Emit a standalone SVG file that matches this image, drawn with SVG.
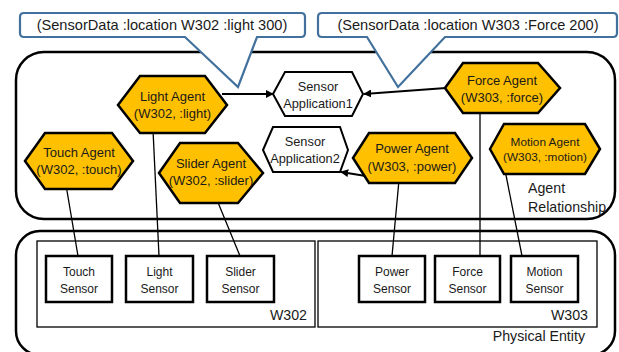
<svg xmlns="http://www.w3.org/2000/svg" width="619" height="352" viewBox="0 0 619 352">
<style>
text{font-family:"Liberation Sans",Arial,sans-serif;fill:#1a1a1a;}
.hex{fill:#FFC000;stroke:#000;stroke-width:2.5;stroke-linejoin:miter;}
.app{fill:#fff;stroke:#000;stroke-width:2;}
.sensor{fill:#fff;stroke:#000;stroke-width:2.5;}
.area{fill:none;stroke:#000;stroke-width:1.3;}
.big{fill:none;stroke:#000;stroke-width:2.5;}
.callout{fill:#fff;stroke:#41719C;stroke-width:2.2;stroke-linejoin:miter;}
.ln{stroke:#000;stroke-width:1.3;fill:none;}
.ar{stroke:#000;stroke-width:2;fill:none;marker-end:url(#ah);}
.t12{font-size:12px;text-anchor:middle;}
.tapp{font-size:12.8px;text-anchor:middle;}
.t13{font-size:13px;text-anchor:middle;}
.lbl{font-size:14.2px;}
</style>
<defs>
<marker id="ah" viewBox="0 0 10 10" refX="9" refY="5" markerWidth="4" markerHeight="4" orient="auto" markerUnits="strokeWidth">
<path d="M0,0 L10,5 L0,10 z" fill="#000"/>
</marker>
</defs>

<g id="agent-relationship">
<rect class="big" x="16" y="52" width="599" height="167" rx="28"/>
<text class="lbl" x="528" y="193">Agent</text>
<text class="lbl" x="528" y="212">Relationship</text>
</g>
<g id="physical-entity">
<rect class="big" x="16" y="231" width="599" height="124" rx="24"/>
<text class="lbl" x="585" y="341" text-anchor="end">Physical Entity</text>
</g>
<g id="w302">
<rect class="area" x="37" y="241" width="278" height="86"/>
<text class="lbl" x="307" y="320" text-anchor="end">W302</text>
</g>
<g id="w303">
<rect class="area" x="318" y="241" width="279" height="86"/>
<text class="lbl" x="588" y="320" text-anchor="end">W303</text>
</g>

<g id="connectors">
<line class="ln" x1="66" y1="185" x2="78" y2="256"/>
<line class="ln" x1="153" y1="130" x2="159" y2="256"/>
<line class="ln" x1="217" y1="200" x2="240" y2="256"/>
<line class="ln" x1="399" y1="180" x2="392" y2="256"/>
<line class="ln" x1="480" y1="110" x2="480" y2="256"/>
<line class="ln" x1="503" y1="160" x2="522" y2="256"/>
<line class="ar" x1="222" y1="94" x2="273" y2="94"/>
<line class="ar" x1="446" y1="88" x2="364" y2="94"/>
<line class="ar" x1="372" y1="177" x2="341" y2="172"/>
</g>

<g id="touch-agent">
<polygon class="hex" points="25,161 45,133 112,133 133,161 112,189 45,189"/>
<text class="t13" x="79" y="157">Touch Agent</text>
<text class="t13" x="79" y="174">(W302, :touch)</text>
</g>
<g id="light-agent">
<polygon class="hex" points="118,105 140,76 205,76 227,105 205,133 140,133"/>
<text class="t13" x="172.5" y="101">Light Agent</text>
<text class="t13" x="172.5" y="118">(W302, :light)</text>
</g>
<g id="slider-agent">
<polygon class="hex" points="159,173 180,143 238,143 263,173 238,203 180,203"/>
<text class="t13" x="211" y="168">Slider Agent</text>
<text class="t13" x="211" y="185">(W302, :slider)</text>
</g>
<g id="force-agent">
<polygon class="hex" points="445,88 463,63 538,63 560,88 538,113 463,113"/>
<text class="t13" x="502" y="85">Force Agent</text>
<text class="t13" x="502" y="102">(W303, :force)</text>
</g>
<g id="power-agent">
<polygon class="hex" points="353,158 369,133 455,133 472,158 455,183 369,183"/>
<text class="t13" x="412" y="153">Power Agent</text>
<text class="t13" x="412" y="171">(W303, :power)</text>
</g>
<g id="motion-agent">
<polygon class="hex" points="490,149 504,124 585,124 600,149 585,174 504,174"/>
<text x="545" y="146" font-size="11.8" text-anchor="middle">Motion Agent</text>
<text x="545" y="161" font-size="11.8" text-anchor="middle">(W303, :motion)</text>
</g>
<g id="sensor-application1">
<polygon class="app" points="273,94 285,72 352,72 363,94 352,116 285,116"/>
<text class="tapp" x="318" y="91">Sensor</text>
<text class="tapp" x="318" y="108">Application1</text>
</g>
<g id="sensor-application2">
<polygon class="app" points="263,150 273,127 340,127 348,150 340,172 273,172"/>
<text class="tapp" x="305" y="146">Sensor</text>
<text class="tapp" x="305" y="163">Application2</text>
</g>

<g id="touch-sensor">
<rect class="sensor" x="46" y="256" width="66" height="46"/>
<text class="t12" x="79" y="276">Touch</text>
<text class="t12" x="79" y="293">Sensor</text>
</g>
<g id="light-sensor">
<rect class="sensor" x="126" y="256" width="67" height="46"/>
<text class="t12" x="159.5" y="276">Light</text>
<text class="t12" x="159.5" y="293">Sensor</text>
</g>
<g id="slider-sensor">
<rect class="sensor" x="207" y="256" width="67" height="46"/>
<text class="t12" x="240.5" y="276">Slider</text>
<text class="t12" x="240.5" y="293">Sensor</text>
</g>
<g id="power-sensor">
<rect class="sensor" x="359" y="256" width="66" height="46"/>
<text class="t12" x="392" y="276">Power</text>
<text class="t12" x="392" y="293">Sensor</text>
</g>
<g id="force-sensor">
<rect class="sensor" x="435" y="256" width="65" height="46"/>
<text class="t12" x="467.5" y="276">Force</text>
<text class="t12" x="467.5" y="293">Sensor</text>
</g>
<g id="motion-sensor">
<rect class="sensor" x="511" y="256" width="67" height="46"/>
<text class="t12" x="544.5" y="276">Motion</text>
<text class="t12" x="544.5" y="293">Sensor</text>
</g>

<g id="callout-w302">
<path class="callout" d="M24,13 H301 Q305,13 305,17 V33 Q305,37 301,37 H257 L238,87 L185,37 H24 Q20,37 20,33 V17 Q20,13 24,13 Z"/>
<text x="162" y="30" font-size="14.6" text-anchor="middle">(SensorData :location W302 :light 300)</text>
</g>
<g id="callout-w303">
<path class="callout" d="M322,13 H613 Q617,13 617,17 V33 Q617,37 613,37 H445 L398,87 L367,37 H322 Q318,37 318,33 V17 Q318,13 322,13 Z"/>
<text x="468" y="30" font-size="14.6" text-anchor="middle">(SensorData :location W303 :Force 200)</text>
</g>
</svg>
